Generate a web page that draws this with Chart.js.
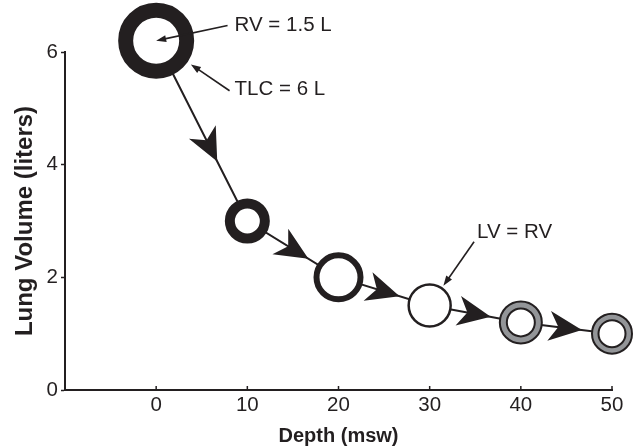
<!DOCTYPE html>
<html>
<head>
<meta charset="utf-8">
<script src="https://cdn.jsdelivr.net/npm/chart.js@4/dist/chart.umd.min.js"></script>
<style>
  html, body { margin: 0; padding: 0; background: #ffffff; }
  #wrap { width: 636px; height: 448px; }
</style>
</head>
<body>
<div id="wrap"><canvas id="lungChart" width="636" height="448"></canvas></div>
<script>
// depth (msw) and lung volume (liters)
var depths = [0, 10, 20, 30, 40, 50];
var volumes = [6.2, 3, 2, 1.5, 1.2, 1.0];
var depthTicks = [0, 10, 20, 30, 40, 50];
var volumeTicks = [0, 2, 4, 6];
// points below RV get the grey ring
var greyDepths = [40, 50];

// ring look of each point (radius of stroke centre, stroke width)
var ringRadius = [30.5, 17.5, 22, 21, 17.5, 16.75];
var ringWidth = [15, 10, 6, 2.5, 9, 8.5];
var greyRadius = [17.5, 16.75];
var greyWidth = [5, 4.5];

// labels with a pointer to a point (text anchor in data units)
var notes = [
  { text: 'RV = 1.5 L', depth: 8.6, volume: 6.47, target: 0, gap: 0, dx: -7, dy: 0 },
  { text: 'TLC = 6 L', depth: 8.6, volume: 5.33, target: 0, gap: 42, dx: -5, dy: 1 },
  { text: 'LV = RV', depth: 35.2, volume: 2.79, target: 3, gap: 24, dx: -3, dy: 9 }
];

var INK = '#231f20';
var GREY = '#939598';
var FONT = "Arial, 'Liberation Sans', Helvetica, sans-serif";

function arrowHead(ctx, tx, ty, ux, uy, len, half, notch) {
    var nx = -uy, ny = ux;
    ctx.beginPath();
    ctx.moveTo(tx, ty);
    ctx.lineTo(tx - ux * len + nx * half, ty - uy * len + ny * half);
    ctx.lineTo(tx - ux * len * notch, ty - uy * len * notch);
    ctx.lineTo(tx - ux * len - nx * half, ty - uy * len - ny * half);
    ctx.closePath();
    ctx.fill();
}

var decorPlugin = {
    id: 'decor',
    afterDatasetsDraw: function(chart) {
        var ctx = chart.ctx;
        var xs = chart.scales.x, ys = chart.scales.y;
        ctx.save();
        ctx.fillStyle = INK;
        ctx.strokeStyle = INK;

        // arrowheads along the path
        for (var i = 0; i < depths.length - 1; i++) {
            var x0 = xs.getPixelForValue(depths[i]), y0 = ys.getPixelForValue(volumes[i]);
            var x1 = xs.getPixelForValue(depths[i + 1]), y1 = ys.getPixelForValue(volumes[i + 1]);
            var dx = x1 - x0, dy = y1 - y0, d = Math.sqrt(dx * dx + dy * dy);
            var ux = dx / d, uy = dy / d;
            arrowHead(ctx, x0 + dx * 0.67, y0 + dy * 0.67, ux, uy, 33, 15, 0.72);
        }

        // inward ticks on the depth axis
        ctx.lineWidth = 1.5;
        depthTicks.forEach(function(t) {
            var x = xs.getPixelForValue(t);
            ctx.beginPath();
            ctx.moveTo(x, ys.bottom);
            ctx.lineTo(x, ys.bottom - 4);
            ctx.stroke();
        });

        // annotations
        ctx.font = '20.5px ' + FONT;
        ctx.textAlign = 'left';
        ctx.textBaseline = 'middle';
        notes.forEach(function(n) {
            var tx = xs.getPixelForValue(n.depth), ty = ys.getPixelForValue(n.volume);
            ctx.fillText(n.text, tx, ty);
            var sx = tx + n.dx, sy = ty + n.dy;
            var cx = xs.getPixelForValue(depths[n.target]), cy = ys.getPixelForValue(volumes[n.target]);
            var dx = sx - cx, dy = sy - cy, d = Math.sqrt(dx * dx + dy * dy);
            var ex = cx + dx / d * n.gap, ey = cy + dy / d * n.gap;
            ctx.lineWidth = 1.6;
            ctx.beginPath();
            ctx.moveTo(sx, sy);
            ctx.lineTo(ex + dx / d * 4, ey + dy / d * 4);
            ctx.stroke();
            arrowHead(ctx, ex, ey, -dx / d, -dy / d, 10, 3.5, 1);
        });
        ctx.restore();
    }
};

function initLungChart() {
    var ctx = document.getElementById('lungChart');

    var pathPoints = depths.map(function(d, i) { return { x: d, y: volumes[i] }; });
    var greyPoints = greyDepths.map(function(d) {
        return { x: d, y: volumes[depths.indexOf(d)] };
    });

    new Chart(ctx, {
        type: 'scatter',
        data: {
            datasets: [{
                // grey band drawn over the black rings
                label: 'below RV',
                data: greyPoints,
                showLine: false,
                pointRadius: greyRadius,
                pointBorderWidth: greyWidth,
                pointBorderColor: GREY,
                pointBackgroundColor: 'rgba(0,0,0,0)',
                clip: false
            }, {
                label: 'Lung volume',
                data: pathPoints,
                showLine: true,
                borderColor: INK,
                borderWidth: 2,
                pointRadius: ringRadius,
                pointBorderWidth: ringWidth,
                pointBorderColor: INK,
                pointBackgroundColor: '#ffffff',
                clip: false
            }]
        },
        options: {
            responsive: false,
            animation: false,
            events: [],
            layout: { autoPadding: false, padding: { top: 52, right: 24, left: 0, bottom: 0 } },
            plugins: {
                legend: { display: false },
                tooltip: { enabled: false }
            },
            scales: {
                x: {
                    type: 'linear',
                    min: -10,
                    max: 50,
                    afterBuildTicks: function(scale) {
                        scale.ticks = depthTicks.map(function(v) { return { value: v }; });
                    },
                    afterFit: function(scale) { scale.height = 58; },
                    grid: { display: false },
                    border: { display: true, color: INK, width: 2 },
                    ticks: {
                        padding: -5,
                        color: INK,
                        font: { family: FONT, size: 20.5 }
                    },
                    title: {
                        display: true,
                        text: 'Depth (msw)',
                        color: INK,
                        padding: { top: 0, bottom: 0 },
                        font: { family: FONT, size: 20, weight: 'bold' }
                    }
                },
                y: {
                    type: 'linear',
                    min: 0,
                    max: 6,
                    afterBuildTicks: function(scale) {
                        scale.ticks = volumeTicks.map(function(v) { return { value: v }; });
                    },
                    afterFit: function(scale) { scale.width = 65; },
                    grid: {
                        display: true,
                        drawOnChartArea: false,
                        drawTicks: true,
                        tickLength: 4,
                        tickWidth: 1.5,
                        tickColor: INK
                    },
                    border: { display: true, color: INK, width: 2 },
                    ticks: {
                        padding: 3,
                        color: INK,
                        font: { family: FONT, size: 20.5 }
                    },
                    title: {
                        display: true,
                        text: 'Lung Volume (liters)',
                        color: INK,
                        padding: { top: 11, bottom: 0 },
                        font: { family: FONT, size: 24, weight: 'bold' }
                    }
                }
            }
        },
        plugins: [decorPlugin]
    });
}

document.addEventListener('DOMContentLoaded', function() {
    initLungChart();
});
</script>
</body>
</html>
